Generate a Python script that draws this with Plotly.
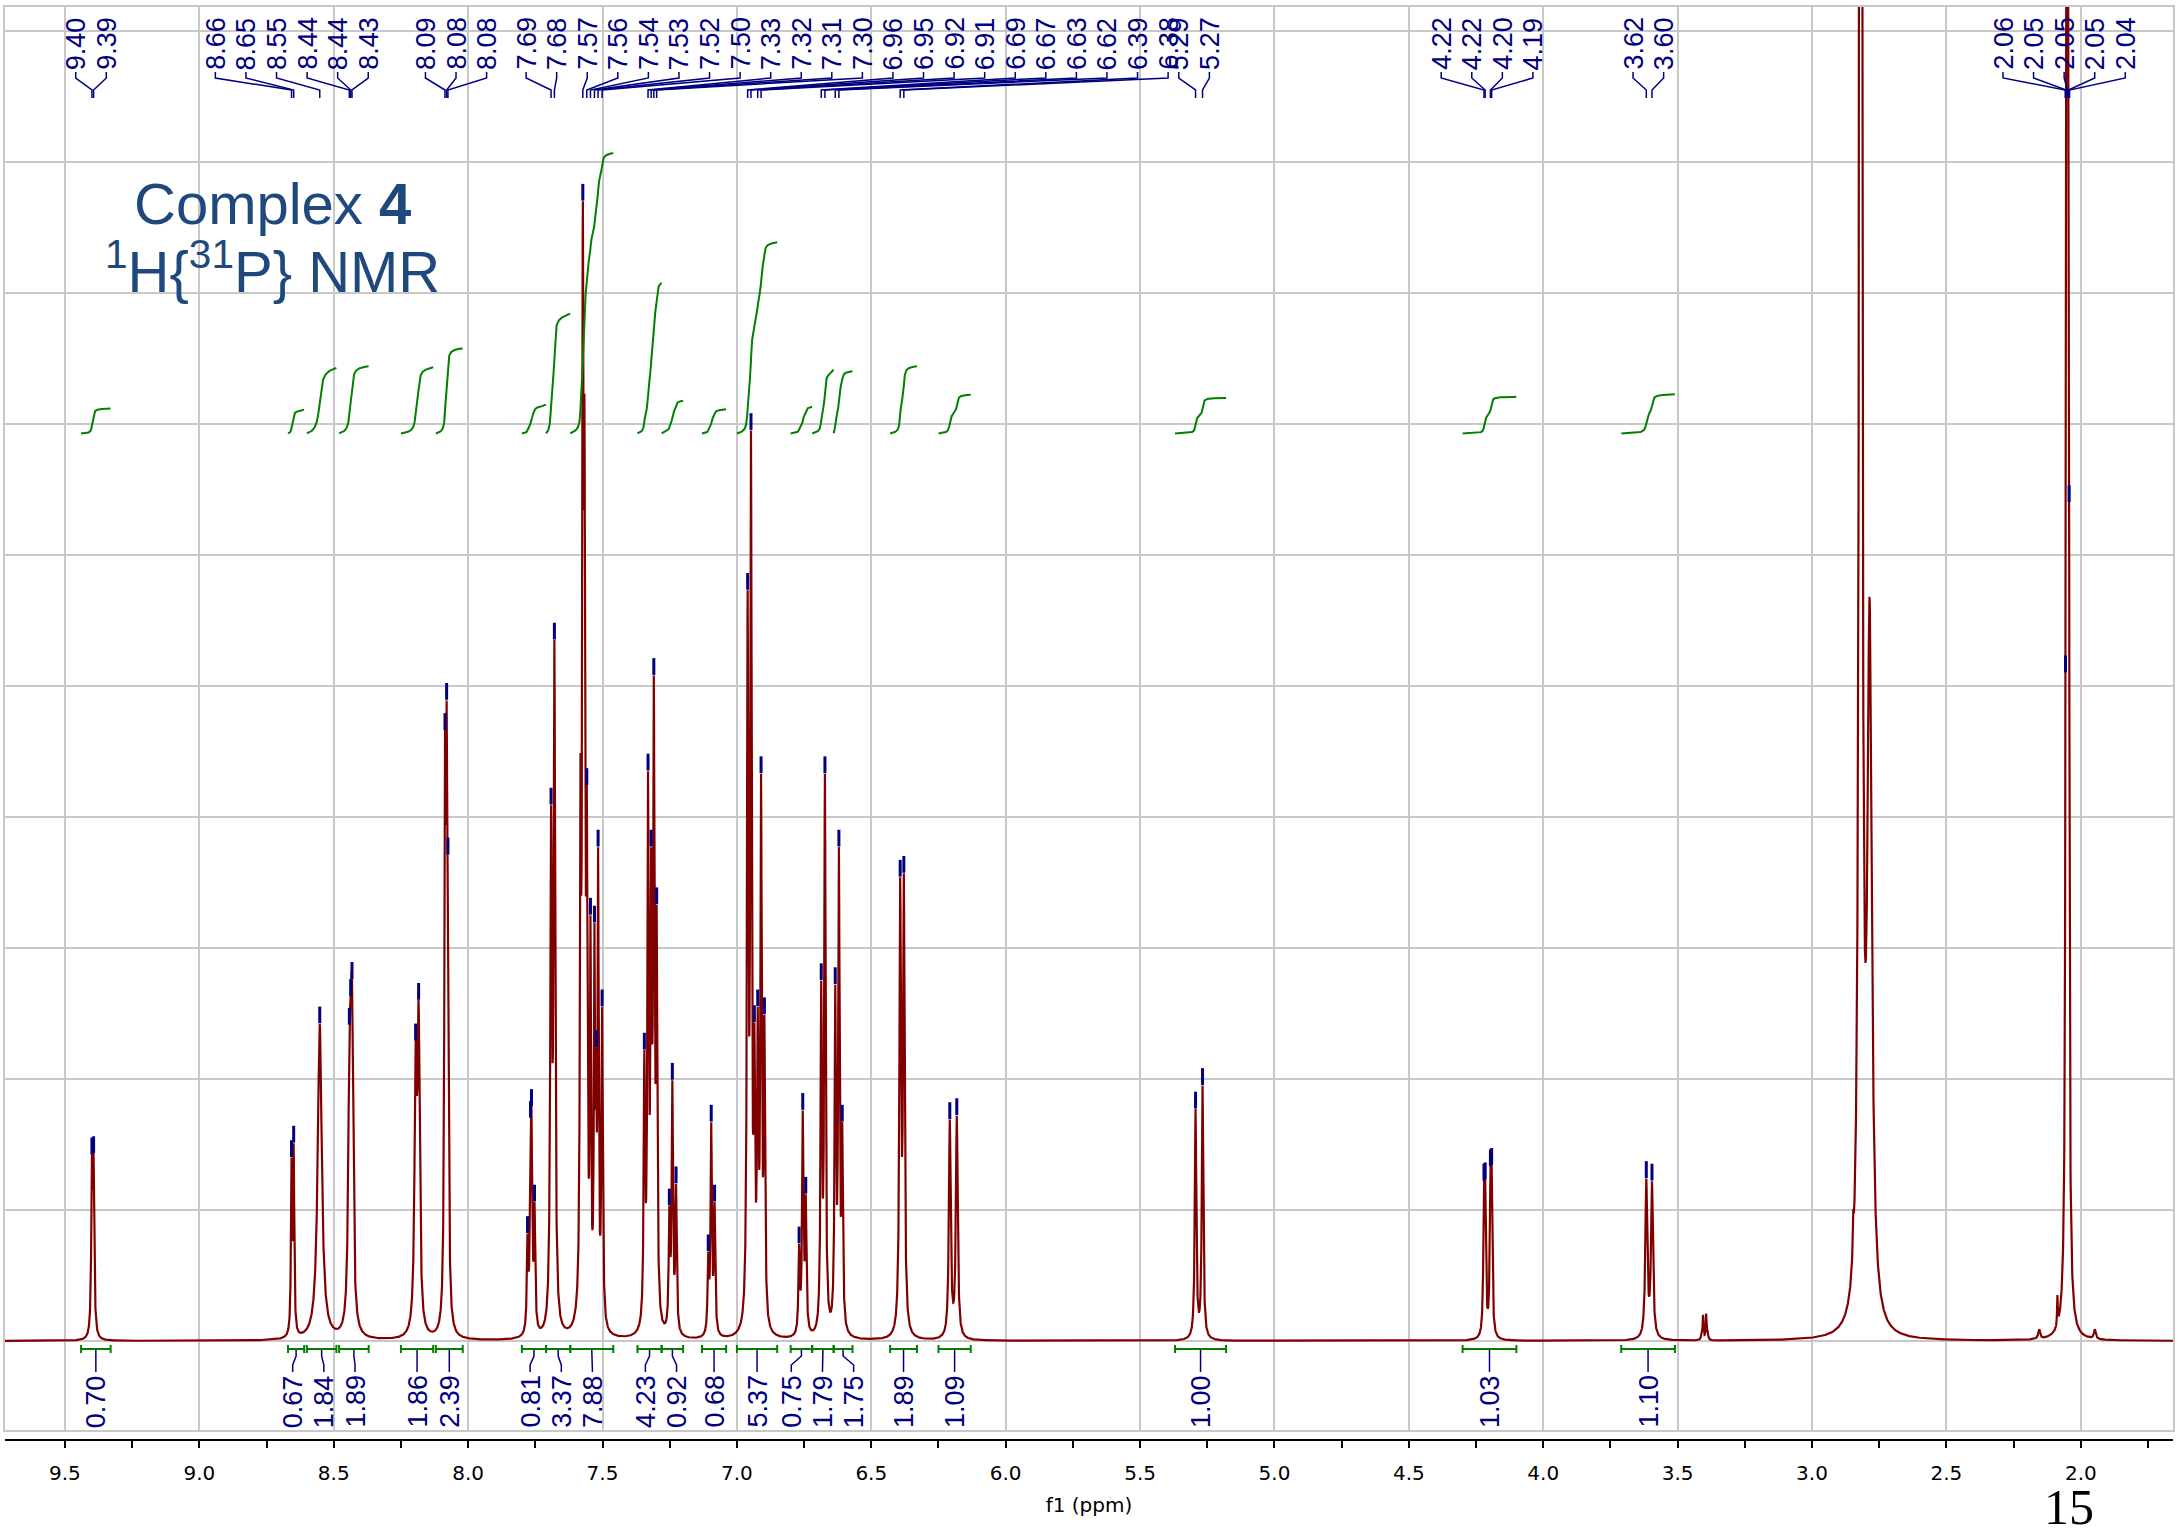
import numpy as np
import plotly.graph_objects as go

# ---------------- DATA ----------------
# spectral lines: shift (ppm), apparent height at the line (grid units), half width (ppm), peak-pick marker
line_ppm = [9.3996, 9.3934, 8.657, 8.649, 8.552, 8.4419, 8.4369, 8.432, 8.1953, 8.1842,
            8.086, 8.080, 8.0751, 7.7789, 7.7678, 7.7641, 7.7529, 7.6914, 7.679,
            7.582, 7.5733, 7.567, 7.5585, 7.5448, 7.530, 7.5238, 7.5164, 7.5015,
            7.3443, 7.3306, 7.319, 7.3091, 7.2986, 7.2513, 7.2402, 7.2264,
            7.1066, 7.0955, 7.0831, 6.960, 6.9476, 6.935, 6.9225, 6.9101, 6.8977,
            6.7686, 6.755, 6.7438, 6.6862, 6.6725, 6.6341, 6.6205, 6.6081,
            6.3925, 6.3789, 6.2079, 6.1819, 5.2936, 5.2676,
            4.2205, 4.216, 4.1965, 4.192, 3.6166, 3.5955,
            3.412, 3.4055, 3.394, 3.388, 2.8467, 2.8192, 2.7858,
            2.155, 2.087, 2.057, 2.0505, 2.0435, 1.948]
line_height = [1.42, 1.43, 1.40, 1.51, 2.42, 2.41, 2.63, 2.76, 2.29, 2.60,
               4.66, 4.89, 3.71, 0.82, 1.70, 1.79, 1.06, 4.09, 5.35,
               4.47, 8.70, 7.20, 4.24, 3.25, 3.19, 2.24, 3.77, 2.55,
               2.22, 4.35, 3.77, 5.08, 3.33, 1.03, 1.99, 1.20,
               0.68, 1.67, 1.06, 5.73, 6.95, 2.43, 2.55, 4.33, 2.49,
               0.74, 1.76, 1.12, 2.75, 4.33, 2.72, 3.77, 1.67,
               3.54, 3.57, 1.69, 1.72, 1.77, 1.95,
               1.22, 1.23, 1.33, 1.34, 1.24, 1.22,
               0.05, 0.20, 0.21, 0.07, 1.00, 30.0, 5.68,
               0.09, 0.35, 5.10, 40.0, 6.40, 0.09]
line_hwhm = [0.003, 0.003, 0.0025, 0.0025, 0.009, 0.005, 0.005, 0.005, 0.005, 0.005,
             0.003, 0.003, 0.003, 0.003, 0.003, 0.003, 0.003, 0.0035, 0.0035,
             0.0025, 0.003, 0.003, 0.003, 0.0025, 0.0025, 0.002, 0.0025, 0.003,
             0.003, 0.003, 0.003, 0.003, 0.003, 0.003, 0.003, 0.003,
             0.003, 0.003, 0.003, 0.003, 0.003, 0.003, 0.003, 0.003, 0.003,
             0.003, 0.003, 0.003, 0.003, 0.003, 0.003, 0.003, 0.003,
             0.0035, 0.0035, 0.004, 0.004, 0.0033, 0.0033,
             0.003, 0.003, 0.003, 0.003, 0.0043, 0.0043,
             0.002, 0.002, 0.002, 0.002, 0.002, 0.004, 0.0097,
             0.004, 0.0015, 0.0015, 0.002, 0.0015, 0.004]
line_marked = [1, 1, 1, 1, 1, 1, 1, 1, 1, 1,
               1, 1, 1, 1, 1, 1, 1, 1, 1,
               0, 1, 0, 1, 1, 1, 1, 1, 1,
               1, 1, 1, 1, 1, 1, 1, 1,
               1, 1, 1, 1, 1, 1, 1, 1, 1,
               1, 1, 1, 1, 1, 1, 1, 1,
               1, 1, 1, 1, 1, 1,
               1, 1, 1, 1, 1, 1,
               0, 0, 0, 0, 0, 0, 0,
               0, 0, 1, 0, 1, 0]

# labelled peaks along the top (text = shift rounded to 2 decimals)
label_ppm = [9.3996, 9.3934,
             8.657, 8.649, 8.552, 8.4419, 8.4369, 8.432,
             8.086, 8.080, 8.0751,
             7.6914, 7.679, 7.5733, 7.5585, 7.5448, 7.530, 7.5164, 7.5015,
             7.3306, 7.319, 7.3091, 7.2986, 6.960, 6.9476, 6.9225, 6.9101,
             6.6862, 6.6725, 6.6341, 6.6205, 6.3925, 6.3789,
             5.2936, 5.2676,
             4.2205, 4.216, 4.1965, 4.192,
             3.6166, 3.5955,
             2.058, 2.054, 2.050, 2.046, 2.042]
label_group_size = [2, 6, 3, 22, 2, 4, 2, 5]
label_group_center = [9.403, 8.656, 8.045, 6.590, 5.299, 4.209, 3.609, 2.062]

# integrals: region start / end (ppm) and value
int_start = [9.44, 8.67, 8.60, 8.48, 8.25, 8.12, 7.80, 7.71, 7.62, 7.37, 7.28,
             7.13, 7.00, 6.80, 6.72, 6.64, 6.43, 6.25, 5.37, 4.30, 3.71]
int_end = [9.33, 8.61, 8.49, 8.37, 8.13, 8.02, 7.71, 7.62, 7.46, 7.28, 7.20,
           7.04, 6.85, 6.72, 6.64, 6.57, 6.33, 6.13, 5.18, 4.10, 3.51]
int_value = [0.70, 0.67, 1.84, 1.89, 1.86, 2.39, 0.81, 3.37, 7.88, 4.23, 0.92,
             0.68, 5.37, 0.75, 1.79, 1.75, 1.89, 1.09, 1.00, 1.03, 1.10]

title_line1 = "Complex <b>4</b>"
title_line2 = "<sup>1</sup>H{<sup>31</sup>P} NMR"
x_title = "f1 (ppm)"
page_number = "15"

# ---------------- geometry & style ----------------
W, H = 2179, 1534
PL, PR, PT = 5, 2175, 7          # plot frame (px)
AXIS_Y, FRAME_B = 1440, 1430     # black axis line / grey frame bottom (px)
PX_PER_PPM = 269.03
REF_PX = 65.0                    # pixel column of 9.5 ppm
X_LEFT = 9.5 + (REF_PX - PL) / PX_PER_PPM
X_RIGHT = 9.5 - (PR - REF_PX) / PX_PER_PPM
BASE_PX, PX_PER_UNIT = 1341.0, 131.0
Y_TOP = (BASE_PX - PT) / PX_PER_UNIT
Y_BOT = (BASE_PX - FRAME_B) / PX_PER_UNIT


def dy(row):           # pixel row -> data y
    return (BASE_PX - row) / PX_PER_UNIT


def px_of(ppm):
    return REF_PX + (9.5 - ppm) * PX_PER_PPM


def ppm_of(px):
    return 9.5 - (px - REF_PX) / PX_PER_PPM


def paper_x(px):
    return (px - PL) / (PR - PL)


def paper_y(row):
    return (AXIS_Y - row) / (AXIS_Y - PT)


RED = "#800000"
NAVY = "#000080"
GREEN = "#008000"
GRID = "#c8c8c8"
LABEL_FONT = dict(family="Liberation Sans, Arial, sans-serif", size=27, color=NAVY)

# ---------------- spectrum from the line list ----------------
p = np.array(line_ppm)
hgt = np.array(line_height)
gw = np.array(line_hwhm)


def lor(x, c, w):
    return w ** 2 / (w ** 2 + (x - c) ** 2)


M = lor(p[:, None], p[None, :], gw[None, :])
active = np.ones(len(p), bool)
amp = np.zeros(len(p))
for _ in range(len(p)):
    amp = np.zeros(len(p))
    amp[active] = np.linalg.lstsq(M[:, active], hgt, rcond=None)[0]
    if (amp >= 0).all():
        break
    active &= amp > 0
amp = np.clip(amp, 0, None)

xs = np.union1d(np.arange(X_RIGHT, X_LEFT, 0.0004), p)[::-1]
ys = np.zeros_like(xs)
for a, c, w in zip(amp, p, gw):
    ys += a * lor(xs, c, w)
peak_top = M @ amp

fig = go.Figure()

fig.add_trace(go.Scatter(x=xs, y=ys, mode="lines", line=dict(color=RED, width=2.2),
                         hoverinfo="skip", showlegend=False))

# peak-pick ticks
mk = np.array(line_marked, bool)
fig.add_trace(go.Scatter(x=p[mk], y=peak_top[mk] + 9 / PX_PER_UNIT, mode="markers",
                         marker=dict(symbol="line-ns", size=12, line=dict(width=3, color=NAVY)),
                         hoverinfo="skip", showlegend=False))

# integral curves
INT_BASE = dy(433.5)
INT_SCALE = 35.6 / PX_PER_UNIT
cx, cy = [], []
for a, b, v in zip(int_start, int_end, int_value):
    m = (xs <= a) & (xs >= b)
    seg_x = xs[m]
    cum = np.cumsum(ys[m])
    cum = cum / cum[-1]
    cx += list(seg_x) + [None]
    cy += list(INT_BASE + v * INT_SCALE * cum) + [None]
fig.add_trace(go.Scatter(x=cx, y=cy, mode="lines", line=dict(color=GREEN, width=2),
                         xaxis="x2", hoverinfo="skip", showlegend=False))

# integration bars
bar_y = dy(1349)
cap = 4 / PX_PER_UNIT
bx, by = [], []
for a, b in zip(int_start, int_end):
    bx += [a, a, None, a, b, None, b, b, None]
    by += [bar_y - cap, bar_y + cap, None, bar_y, bar_y, None, bar_y - cap, bar_y + cap, None]
fig.add_trace(go.Scatter(x=bx, y=by, mode="lines", line=dict(color=GREEN, width=2),
                         hoverinfo="skip", showlegend=False))


# 1-D label spreading for the integral values
def spread(want_px, gap):
    order = list(np.argsort(want_px))
    clusters = []

    def pos(c):
        m = np.mean([want_px[i] for i in c])
        return m + (np.arange(len(c)) - (len(c) - 1) / 2) * gap

    for i in order:
        clusters.append([i])
        while len(clusters) > 1:
            a, b = clusters[-2], clusters[-1]
            if pos(b)[0] - pos(a)[-1] < gap - 1e-9:
                clusters[-2:] = [a + b]
            else:
                break
    out = np.zeros(len(want_px))
    for c in clusters:
        for i, x in zip(c, pos(c)):
            out[i] = x
    return out


bar_center_px = [px_of((a + b) / 2) for a, b in zip(int_start, int_end)]
lab_px = spread(bar_center_px, 31.2)
lx_, ly_ = [], []
for bc, lp in zip(bar_center_px, lab_px):
    lx_ += [ppm_of(bc), ppm_of(bc), ppm_of(lp), ppm_of(lp), None]
    ly_ += [dy(1350), dy(1356), dy(1365), dy(1372), None]
fig.add_trace(go.Scatter(x=lx_, y=ly_, mode="lines", line=dict(color=NAVY, width=1.5),
                         hoverinfo="skip", showlegend=False))

annotations = []
for v, lp in zip(int_value, lab_px):
    annotations.append(dict(x=ppm_of(lp), y=dy(1374), xref="x", yref="y", text=f"{v:.2f}",
                            textangle=-90, showarrow=False, xanchor="center", yanchor="top",
                            font=LABEL_FONT, borderpad=0))

# top peak labels
SP = 30.6
tx, ty = [], []
k = 0
for n, c in zip(label_group_size, label_group_center):
    cpx = px_of(c)
    for i in range(n):
        lpx = cpx + (i - (n - 1) / 2) * SP
        ppk = label_ppm[k]
        tx += [ppm_of(lpx), ppm_of(lpx), ppk, ppk, None]
        ty += [dy(72), dy(78), dy(90), dy(98), None]
        annotations.append(dict(x=ppm_of(lpx), y=dy(71), xref="x", yref="y", text=f"{ppk:.2f}",
                                textangle=-90, showarrow=False, xanchor="center", yanchor="bottom",
                                font=LABEL_FONT, borderpad=0))
        k += 1
fig.add_trace(go.Scatter(x=tx, y=ty, mode="lines", line=dict(color=NAVY, width=1.5),
                         hoverinfo="skip", showlegend=False))

# title text
annotations.append(dict(x=paper_x(273), y=paper_y(204), xref="paper", yref="paper", text=title_line1,
                        showarrow=False, xanchor="center", yanchor="middle",
                        font=dict(family="Liberation Sans, Arial, sans-serif", size=58, color="#1F497D")))
annotations.append(dict(x=paper_x(273), y=paper_y(268), xref="paper", yref="paper", text=title_line2,
                        showarrow=False, xanchor="center", yanchor="middle",
                        font=dict(family="Liberation Sans, Arial, sans-serif", size=58, color="#1F497D")))
annotations.append(dict(x=paper_x(2071), y=paper_y(1507), xref="paper", yref="paper", text=page_number,
                        showarrow=False, xanchor="center", yanchor="middle",
                        font=dict(family="Liberation Serif, Times New Roman, serif", size=50, color="black")))

fig.update_layout(
    width=W, height=H,
    margin=dict(l=PL, r=W - PR, t=PT, b=H - AXIS_Y, pad=0),
    paper_bgcolor="white", plot_bgcolor="white",
    showlegend=False,
    annotations=annotations,
    xaxis=dict(range=[X_LEFT, X_RIGHT], autorange=False, anchor="y",
               showgrid=True, gridcolor=GRID, gridwidth=2, dtick=0.5, tick0=0,
               showticklabels=False, ticks="", zeroline=False,
               showline=True, linecolor=GRID, linewidth=2, mirror=True),
    xaxis2=dict(range=[X_LEFT, X_RIGHT], autorange=False, overlaying="x", anchor="free", position=0,
                showgrid=False, zeroline=False, dtick=0.5, tick0=0, tickformat=".1f",
                showline=True, linecolor="black", linewidth=2,
                ticks="outside", ticklen=7, tickwidth=2, tickcolor="black",
                minor=dict(dtick=0.25, tick0=0, ticks="outside", ticklen=7, tickwidth=2,
                           tickcolor="black", showgrid=False),
                ticklabelstandoff=8,
                tickfont=dict(family="DejaVu Sans, Verdana, sans-serif", size=20, color="black"),
                title=dict(text=x_title, standoff=13,
                           font=dict(family="DejaVu Sans, Verdana, sans-serif", size=20, color="black"))),
    yaxis=dict(range=[Y_BOT, Y_TOP], autorange=False,
               domain=[(AXIS_Y - FRAME_B) / (AXIS_Y - PT), 1],
               showgrid=True, gridcolor=GRID, gridwidth=2, dtick=1, tick0=0,
               showticklabels=False, ticks="", zeroline=False,
               showline=True, linecolor=GRID, linewidth=2, mirror=True),
)

fig.write_html("out.html", config={"displayModeBar": False},
               post_script="document.body.style.margin='0px';")
